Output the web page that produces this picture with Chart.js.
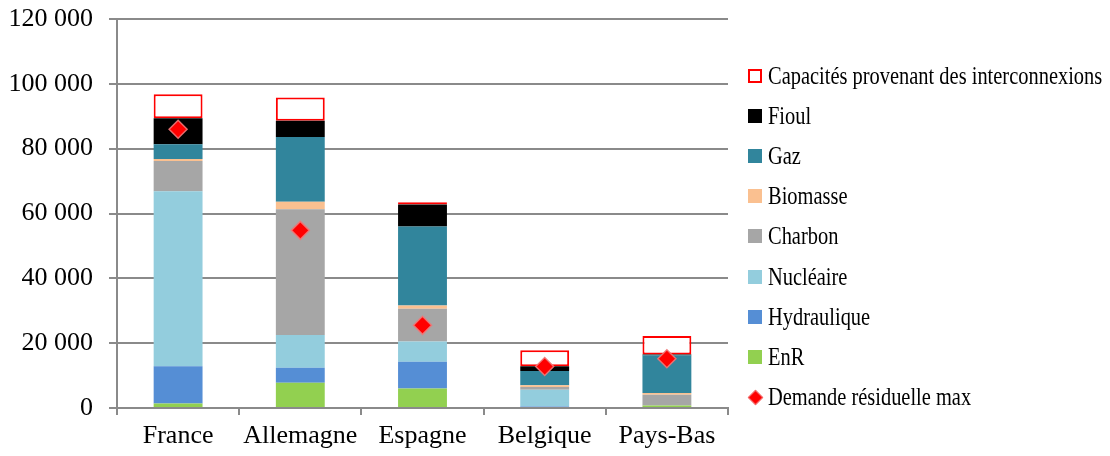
<!DOCTYPE html>
<html><head><meta charset="utf-8">
<script src="https://cdn.jsdelivr.net/npm/chart.js@4"></script>
<style>
html,body{margin:0;padding:0;background:#fff;}
#wrap{position:relative;width:1110px;height:456px;}
#legend{position:absolute;left:748px;top:0;font-family:"Liberation Serif","Times New Roman",serif;font-size:26px;color:#000;}
.li{position:absolute;left:0;white-space:nowrap;height:28px;line-height:28px;}
.mk{position:absolute;left:0;top:7px;width:14px;height:14px;box-sizing:border-box;}
.tx{position:absolute;left:20px;top:0;transform:scaleX(0.786);transform-origin:0 50%;}
</style></head>
<body>
<div id="wrap"><canvas id="c" width="1110" height="456"></canvas><div id="legend"></div></div>
<script>
const categories = ["France","Allemagne","Espagne","Belgique","Pays-Bas"];
const enr        = [1400, 7800, 6000, 0, 800];
const hydraulique= [11500, 4600, 8300, 500, 0];
const nucleaire  = [54000, 10100, 6200, 5100, 0];
const charbon    = [9300, 38800, 10100, 900, 3300];
const biomasse   = [600, 2300, 1000, 500, 500];
const gaz        = [4600, 20000, 24400, 4400, 11700];
const fioul      = [8000, 5000, 6800, 1500, 200];
const capacites  = [7400, 7200, 700, 4900, 5700];
const demande    = [86000, 54800, 25500, 12800, 15200];
const yTicks = [0, 20000, 40000, 60000, 80000, 100000, 120000];

const fmt = v => String(v).replace(/\B(?=(\d{3})+(?!\d))/g, ' ');
const font = {family:'"Liberation Serif","Times New Roman",serif', size:26};

const barDs = (label, data, color, extra) => Object.assign({
  type:'bar', label, data, backgroundColor:color, borderWidth:0, stack:'s', order:1,
  categoryPercentage:0.8, barPercentage:0.5
}, extra||{});

const datasets = [
  barDs('EnR', enr, '#92D050'),
  barDs('Hydraulique', hydraulique, '#558ED5'),
  barDs('Nucléaire', nucleaire, '#93CDDD'),
  barDs('Charbon', charbon, '#A6A6A6'),
  barDs('Biomasse', biomasse, '#FAC090'),
  barDs('Gaz', gaz, '#31859C'),
  barDs('Fioul', fioul, '#000000'),
  barDs('Capacités provenant des interconnexions', capacites, '#FFFFFF', {borderColor:'#FF0000', borderWidth:2, borderSkipped:false}),
  {type:'line', label:'Demande résiduelle max', data:demande, showLine:false, stack:'d', order:0,
   pointStyle:'rectRot', pointRadius:9, pointHoverRadius:9, backgroundColor:'#FF0000', borderColor:'rgba(240,120,120,0.9)', pointBorderWidth:1.5}
];

new Chart(document.getElementById('c'), {
  data:{labels:categories, datasets},
  options:{
    responsive:false, animation:false,
    layout:{padding:{top:19,right:382,left:0,bottom:0}},
    plugins:{legend:{display:false}, tooltip:{enabled:false}},
    scales:{
      x:{stacked:true,
         afterFit:s=>{s.height=48; s.paddingLeft=0; s.paddingRight=0;},
         grid:{display:true, drawOnChartArea:false, drawTicks:true, tickLength:7, color:'#8a8a8a', lineWidth:2, offset:true},
         border:{display:true, color:'#8a8a8a', width:2},
         ticks:{font, color:'#000', padding:6}},
      y:{stacked:true, min:0, max:120000,
         afterFit:s=>{s.width=117; s.paddingTop=0; s.paddingBottom=0;},
         afterBuildTicks:s=>{s.ticks = yTicks.map(v=>({value:v}));},
         grid:{color:'#8a8a8a', lineWidth:2, tickLength:8, drawTicks:true},
         border:{display:true, color:'#8a8a8a', width:2},
         ticks:{font, color:'#000', padding:16, callback:v=>fmt(v)}}
    }
  }
});

// HTML legend
const legendItems = [
  {t:'Capacités provenant des interconnexions', s:'border:2px solid #FF0000;background:#fff;'},
  {t:'Fioul', s:'background:#000;'},
  {t:'Gaz', s:'background:#31859C;'},
  {t:'Biomasse', s:'background:#FAC090;'},
  {t:'Charbon', s:'background:#A6A6A6;'},
  {t:'Nucléaire', s:'background:#93CDDD;'},
  {t:'Hydraulique', s:'background:#558ED5;'},
  {t:'EnR', s:'background:#92D050;'},
  {t:'Demande résiduelle max', s:'background:#FF0000;width:11px;height:11px;transform:rotate(45deg);left:2px;top:9px;border:1px solid rgba(240,120,120,0.9);'}
];
const lg = document.getElementById('legend');
legendItems.forEach((it,i)=>{
  const d = document.createElement('div'); d.className='li'; d.style.top=(62+i*40.1)+'px';
  d.innerHTML = '<span class="mk" style="'+it.s+'"></span><span class="tx">'+it.t+'</span>';
  lg.appendChild(d);
});
</script>
</body></html>
